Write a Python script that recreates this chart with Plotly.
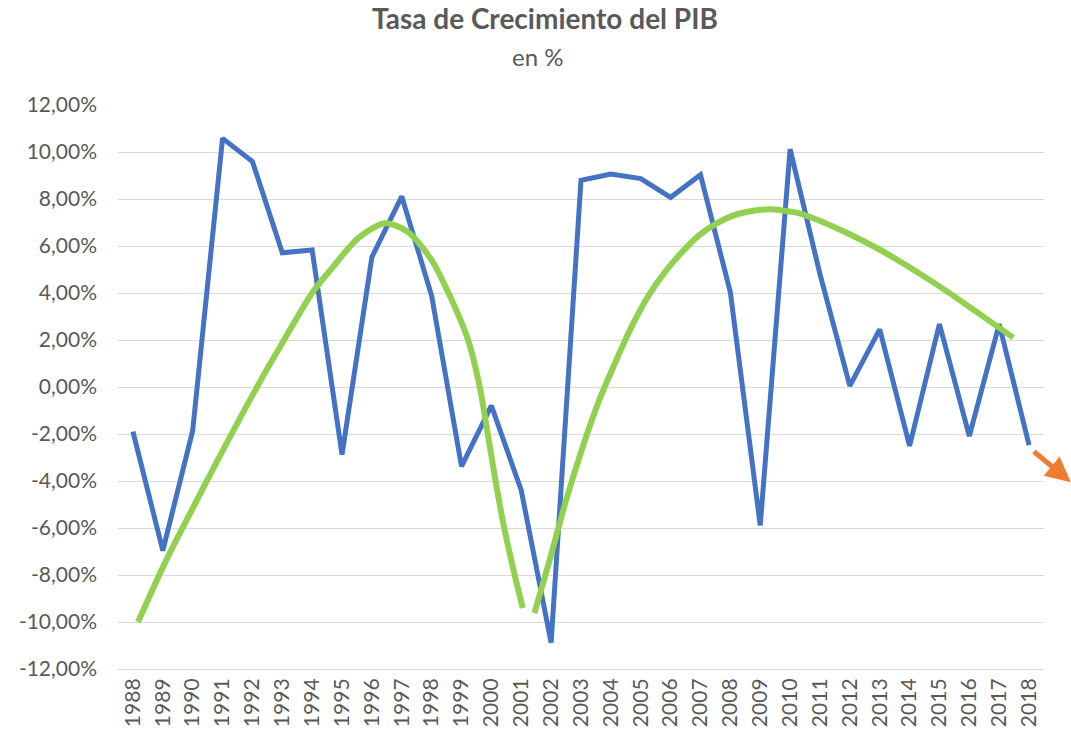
import plotly.graph_objects as go

years = list(range(1988, 2019))
growth = [-1.90, -6.96, -1.86, 10.58, 9.60, 5.71, 5.83, -2.88, 5.53, 8.11,
          3.88, -3.38, -0.79, -4.40, -10.88, 8.80, 9.06, 8.87, 8.07, 9.03,
          4.03, -5.89, 10.12, 4.80, 0.05, 2.45, -2.51, 2.68, -2.09, 2.68, -2.47]

trend1_x = [1988.17, 1989.1, 1990.2, 1991.33, 1992.44, 1993.0, 1994.0, 1994.67,
            1995.56, 1996.44, 1997.2, 1998.0, 1998.6, 1999.22, 1999.61,
            1999.88, 2000.14, 2000.43, 2000.78, 2001.05]
trend1_y = [-10.0, -7.41, -4.67, -1.93, 0.65, 1.87, 4.0, 5.07,
            6.36, 6.97, 6.6, 5.4, 3.9, 2.0, 0.0,
            -2.0, -4.0, -6.0, -8.0, -9.4]

trend2_x = [2001.44, 2001.94, 2002.5, 2003.06, 2003.61, 2004.17, 2004.72, 2005.28,
            2005.83, 2006.39, 2006.94, 2007.5, 2008.06, 2008.61, 2009.28, 2009.69,
            2010.28, 2010.8, 2011.91, 2013.02, 2014.13, 2015.24, 2016.36, 2017.47]
trend2_y = [-9.62, -7.41, -4.82, -2.54, -0.56, 1.11, 2.63, 3.93,
            4.92, 5.75, 6.44, 6.93, 7.28, 7.47, 7.56, 7.52,
            7.4, 7.17, 6.55, 5.83, 4.99, 4.08, 3.09, 2.10]

arrow_start = (2018.11, -2.69)
arrow_end = (2019.40, -4.05)

title_text = "Tasa de Crecimiento del PIB"
subtitle_text = "en %"

y_ticks = list(range(-12, 13, 2))
y_ticktext = [f"{v:.2f}".replace(".", ",") + "%" for v in y_ticks]
x_ticktext = [str(y) for y in years]

grey = "#595959"

fig = go.Figure()
fig.add_trace(go.Scatter(x=years, y=growth, mode="lines",
                         line=dict(color="#4472C4", width=5), showlegend=False))
fig.add_trace(go.Scatter(x=trend1_x, y=trend1_y, mode="lines", line_shape="spline",
                         line=dict(color="#92D050", width=6, smoothing=0.8),
                         showlegend=False, hoverinfo="skip"))
fig.add_trace(go.Scatter(x=trend2_x, y=trend2_y, mode="lines", line_shape="spline",
                         line=dict(color="#92D050", width=6, smoothing=0.8),
                         showlegend=False, hoverinfo="skip"))

fig.add_annotation(x=arrow_end[0], y=arrow_end[1], ax=arrow_start[0], ay=arrow_start[1],
                   xref="x", yref="y", axref="x", ayref="y", text="",
                   showarrow=True, arrowhead=2, arrowsize=1.0, arrowwidth=5,
                   arrowcolor="#ED7D31")

fig.add_annotation(x=(545 - 118) / 926, y=1, xref="paper", yref="paper", xanchor="center",
                   yanchor="middle", yshift=87, showarrow=False,
                   text="<b>" + title_text + "</b>",
                   font=dict(size=28, color=grey, family="Lato"))
fig.add_annotation(x=(537 - 118) / 926, y=1, xref="paper", yref="paper", xanchor="center",
                   yanchor="middle", yshift=49, showarrow=False,
                   text=subtitle_text,
                   font=dict(size=24, color=grey, family="Lato"))

fig.update_layout(
    width=1071, height=736,
    margin=dict(l=118, r=27, t=105, b=67, autoexpand=False),
    paper_bgcolor="white", plot_bgcolor="white",
    font=dict(family="Lato", color=grey),
)
fig.update_xaxes(range=[1987.5, 2018.5], tickvals=years, ticktext=x_ticktext,
                 tickangle=-90, showgrid=False, zeroline=False, showline=True,
                 linecolor="#D9D9D9", linewidth=1, ticks="",
                 tickfont=dict(size=21, color=grey, family="Lato"))
fig.update_yaxes(range=[-12, 12], tickvals=y_ticks, ticktext=y_ticktext,
                 showgrid=True, gridcolor="#D9D9D9", gridwidth=1, zeroline=False,
                 showline=False, ticks="", ticklabelstandoff=20,
                 tickfont=dict(size=21, color=grey, family="Lato"))

fig.write_html("out.html", config={"displayModeBar": False},
               post_script="document.body.style.margin='0';")
